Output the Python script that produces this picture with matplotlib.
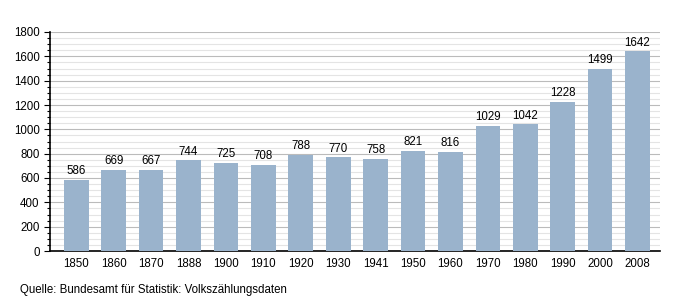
import matplotlib
matplotlib.use("Agg")
import matplotlib.pyplot as plt
from matplotlib.ticker import MultipleLocator

years = ["1850", "1860", "1870", "1888", "1900", "1910", "1920", "1930", "1941",
         "1950", "1960", "1970", "1980", "1990", "2000", "2008"]
population = [586, 669, 667, 744, 725, 708, 788, 770, 758, 821, 816, 1029, 1042, 1228, 1499, 1642]
source = "Quelle: Bundesamt für Statistik: Volkszählungsdaten"

plt.rcParams['font.family'] = ['Liberation Sans', 'DejaVu Sans']
fig = plt.figure(figsize=(6.8, 3.0), dpi=100)
ax = fig.add_axes([50/680, 49/300, 610/680, 219/300])

x = list(range(len(years)))
ax.bar(x, population, width=0.66, color="#9ab3cc", zorder=3)
for xi, v in zip(x, population):
    ax.text(xi, v + 22, str(v), ha="center", va="bottom", fontsize=8.3, zorder=4)

ax.set_xlim(-0.7, len(years) - 0.4)
ax.set_ylim(0, 1800)
ax.yaxis.set_major_locator(MultipleLocator(200))
ax.yaxis.set_minor_locator(MultipleLocator(50))
ax.grid(which="major", axis="y", color="#bbbbbb", linewidth=0.8, zorder=0)
ax.grid(which="minor", axis="y", color="#e4e4e4", linewidth=0.8, zorder=0)
ax.set_xticks(x)
ax.set_xticklabels(years, fontsize=8.3)
ax.tick_params(axis="x", length=0, pad=5)
ax.tick_params(axis="y", which="major", labelsize=8.3, length=4, width=0.8, direction="out")
ax.tick_params(axis="y", which="minor", length=2.5, width=0.8, direction="out")
for s in ["top", "right"]:
    ax.spines[s].set_visible(False)
ax.spines["left"].set_linewidth(1.2)
ax.spines["bottom"].set_linewidth(1.2)

fig.text(20/680, 1 - 290/300, source, fontsize=8.3, ha="left", va="center")
fig.savefig("out.png", dpi=100)
